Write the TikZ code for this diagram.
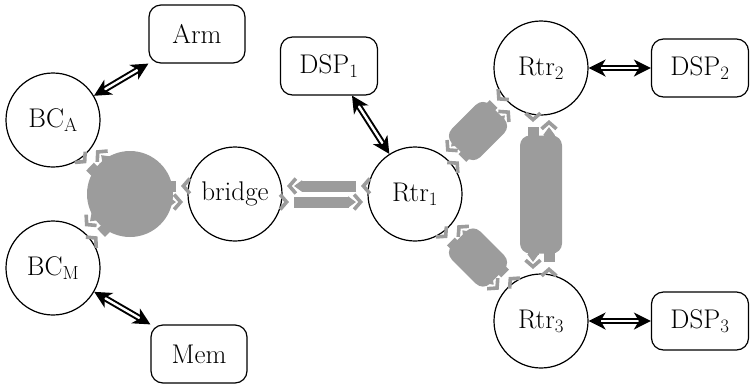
\documentclass[tikz,border=0pt]{standalone}
\usepackage{fontspec}
\usetikzlibrary{arrows.meta,calc,decorations.markings}

\definecolor{flowgray}{RGB}{156,156,156}

\tikzset{
  x=1pt, y=-1pt,
  chev/.tip={Straight Barb[length=6.5pt,width=15pt,line width=3.6pt,color=flowgray]},
  unit/.style={circle, draw, fill=white, line width=1.2pt, minimum size=94pt,
    inner sep=0pt, font=\fontsize{27}{32}\selectfont},
  dev/.style={rectangle, rounded corners=12pt, draw, fill=white, line width=1.2pt,
    minimum width=96pt, minimum height=58pt, inner xsep=19pt,
    font=\fontsize{27}{32}\selectfont},
  busline/.style={line width=2pt, double distance=2.4pt,
    {Stealth[length=17pt,width=17pt,inset=5pt]}-{Stealth[length=17pt,width=17pt,inset=5pt]}},
  flowbar/.style={line width=11pt, draw=flowgray, -{Triangle[length=8pt,width=11pt]}},
  blob/.style={rectangle, fill=flowgray, rounded corners=10pt, inner sep=0pt},
}

% one-way traffic lane from #1 to #2; #3 and #4 are the clearances
% kept free around the source and the target
\newcommand\flow[4]{%
  \pgfmathsetmacro\fla{#3+7}\pgfmathsetmacro\flb{#4+5}%
  \pgfmathsetmacro\fsa{#3+12}\pgfmathsetmacro\fsb{#4+12}%
  \coordinate (fs) at ($(#1)!8pt!-90:(#2)$);
  \coordinate (ft) at ($(#2)!8pt!90:(#1)$);
  \draw[flowbar, shorten <=\fsa pt, shorten >=\fsb pt] (fs) -- (ft);
  \path[color=flowgray, decoration={markings,
      mark=at position \fla pt with {\arrow{chev}},
      mark=at position -\flb pt with {\arrow{chev}}}, decorate] (fs) -- (ft);
}

\begin{document}
\begin{tikzpicture}
\useasboundingbox (0,0) rectangle (750,384);

% units and devices
\node[unit] (BCA) at (53,120) {BC\textsubscript{A}};
\node[unit] (BCM) at (53,268) {BC\textsubscript{M}};
\node[unit] (bridge) at (235,194) {bridge};
\node[unit] (R1) at (415,194) {Rtr\textsubscript{1}};
\node[unit] (R2) at (541,68) {Rtr\textsubscript{2}};
\node[unit] (R3) at (541,321) {Rtr\textsubscript{3}};
\node[dev] (Arm) at (197,34) {Arm};
\node[dev] (Mem) at (199,354) {Mem};
\node[dev] (D1) at (329,66) {DSP\textsubscript{1}};
\node[dev] (D2) at (700,68) {DSP\textsubscript{2}};
\node[dev] (D3) at (700,321) {DSP\textsubscript{3}};
\coordinate (bus) at (130,194);

% traffic lanes
\flow{bus}{BCA}{0}{47}\flow{BCA}{bus}{47}{0}
\flow{bus}{BCM}{0}{47}\flow{BCM}{bus}{47}{0}
\flow{bus}{bridge}{0}{47}\flow{bridge}{bus}{47}{0}
\flow{bridge}{R1}{47}{47}\flow{R1}{bridge}{47}{47}
\flow{R1}{R2}{47}{47}\flow{R2}{R1}{47}{47}
\flow{R1}{R3}{47}{47}\flow{R3}{R1}{47}{47}
\flow{R2}{R3}{47}{47}\flow{R3}{R2}{47}{47}

% congested link sections and the shared bus
\node[blob, rotate=45, minimum width=54pt, minimum height=40pt] (b12) at ($(R1)!.5!(R2)$) {};
\node[blob, rotate=-45, minimum width=54pt, minimum height=40pt] (b13) at ($(R1)!.5!(R3)$) {};
\node[blob, minimum width=42pt, minimum height=118pt] (b23) at ($(R2)!.5!(R3)$) {};
\fill[flowgray] (bus) circle[radius=43pt];

% device connections
\draw[busline] (BCA) -- (Arm.south west);
\draw[busline] (BCM) -- (Mem.north west);
\draw[busline] (R1) -- ([xshift=23pt]D1.south);
\draw[busline] (R2) -- (D2);
\draw[busline] (R3) -- (D3);
\end{tikzpicture}
\end{document}
